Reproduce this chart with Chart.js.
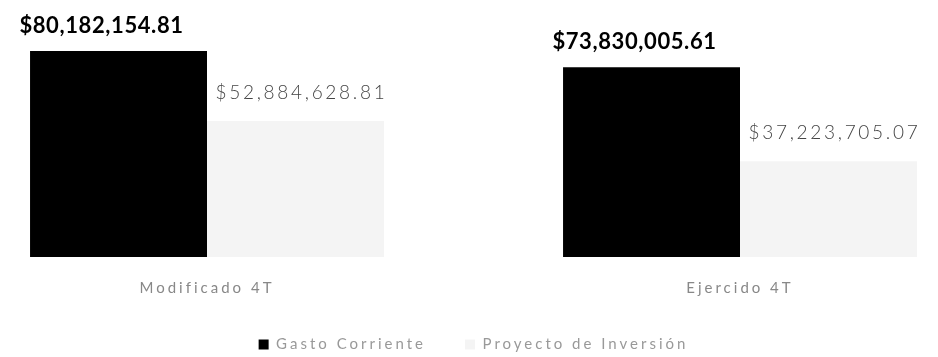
<!DOCTYPE html>
<html>
<head>
<meta charset="utf-8">
<script src="https://cdn.jsdelivr.net/npm/chart.js@4.4.1/dist/chart.umd.min.js"></script>
<style>
    html, body { margin: 0; padding: 0; background: #fff; }
    #wrap { width: 938px; height: 357px; position: relative; }
</style>
</head>
<body>
<div id="wrap"><canvas id="gastoChart"></canvas></div>
<script>
// Data
const categories = ['Modificado 4T', 'Ejercido 4T'];
const gastoCorriente = [80182154.81, 73830005.61];
const proyectoInversion = [52884628.81, 37223705.07];

const money = v => '$' + v.toLocaleString('en-US', { minimumFractionDigits: 2, maximumFractionDigits: 2 });

// Value labels above each bar
const valueLabels = {
    id: 'valueLabels',
    afterDatasetsDraw(chart) {
        const ctx = chart.ctx;
        chart.data.datasets.forEach((ds, i) => {
            const meta = chart.getDatasetMeta(i);
            meta.data.forEach((bar, j) => {
                ctx.save();
                let dx = 6, dy = 28;
                if (i === 0) {
                    ctx.font = 'bold 22px Lato, sans-serif';
                    ctx.fillStyle = '#000';
                    ctx.letterSpacing = '0.6px';
                    dx = -17; dy = 25;
                } else {
                    ctx.font = '300 19px Lato, sans-serif';
                    ctx.fillStyle = '#444';
                    ctx.letterSpacing = '2.7px';
                }
                ctx.textAlign = 'center';
                ctx.textBaseline = 'middle';
                ctx.fillText(money(ds.data[j]), bar.x + dx, bar.y - dy);
                ctx.restore();
            });
        });
    }
};

// wide tracking for axis and legend text
const spacing = {
    id: 'spacing',
    beforeUpdate(chart) { chart.ctx.letterSpacing = '3px'; },
    beforeDraw(chart) { chart.ctx.letterSpacing = '3px'; }
};

const ctx = document.getElementById('gastoChart').getContext('2d');

new Chart(ctx, {
    type: 'bar',
    data: {
        labels: categories,
        datasets: [{
            label: 'Gasto Corriente',
            data: gastoCorriente,
            backgroundColor: '#000',
            clip: false
        }, {
            label: 'Proyecto de Inversión',
            data: proyectoInversion,
            backgroundColor: '#f4f4f4',
            clip: false
        }]
    },
    options: {
        responsive: true,
        maintainAspectRatio: false,
        animation: false,
        categoryPercentage: 0.664,
        barPercentage: 1,
        layout: {
            padding: { left: 207, right: 198, top: 0, bottom: -5 }
        },
        scales: {
            x: {
                offset: false,
                grid: { display: false, drawTicks: false },
                border: { display: false },
                ticks: {
                    color: '#888',
                    padding: 22,
                    font: { size: 15, family: 'Lato, sans-serif' }
                },
                afterFit(scale) { scale.height = 41; }
            },
            y: {
                display: false,
                min: 0,
                max: 100000000
            }
        },
        plugins: {
            legend: {
                position: 'bottom',
                labels: {
                    boxWidth: 10,
                    boxHeight: 10,
                    padding: 39,
                    color: '#999',
                    font: { size: 15, family: 'Lato, sans-serif' }
                }
            },
            tooltip: { enabled: false }
        }
    },
    plugins: [spacing, valueLabels]
});
</script>
</body>
</html>
